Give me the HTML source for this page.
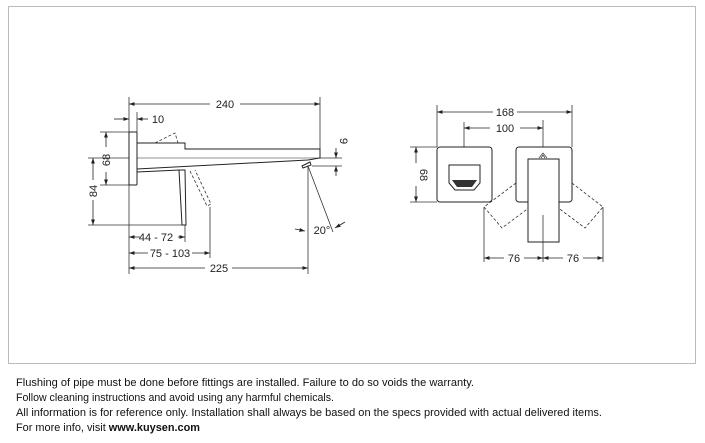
<!DOCTYPE html>
<html><head><meta charset="utf-8"><style>
html,body{margin:0;padding:0;background:#fff;width:705px;height:443px;overflow:hidden}
svg{display:block}
text{font-family:"Liberation Sans",sans-serif}
</style></head><body>
<svg width="705" height="443" viewBox="0 0 705 443" xmlns="http://www.w3.org/2000/svg">
<defs>
<marker id="a" viewBox="0 0 10 10" refX="10" refY="5" markerWidth="7" markerHeight="7" orient="auto-start-reverse"><path d="M0,1.5 L10,5 L0,8.5 z" fill="#222"/></marker>
</defs>
<rect x="8.5" y="6.5" width="687" height="357" fill="none" stroke="#bbb" stroke-width="1"/>
<g stroke="#333" stroke-width="0.8" fill="none">
<line x1="129" y1="97" x2="129" y2="274"/>
<line x1="320" y1="97" x2="320" y2="150"/>
<line x1="137" y1="112" x2="137" y2="132"/>
<line x1="100" y1="132" x2="129" y2="132"/>
<line x1="100" y1="185" x2="129" y2="185"/>
<line x1="88" y1="158" x2="137" y2="158"/>
<line x1="88" y1="225" x2="182" y2="225"/>
<line x1="185" y1="225" x2="185" y2="242"/>
<line x1="210" y1="207" x2="210" y2="258"/>
<line x1="308" y1="166" x2="308" y2="274"/>
<line x1="312" y1="158" x2="342" y2="158"/>
<line x1="312" y1="166" x2="342" y2="166"/>
<line x1="308" y1="166" x2="333" y2="232"/>
</g>
<g stroke="#222" stroke-width="0.8" fill="none">
<line x1="129" y1="104" x2="210" y2="104" marker-start="url(#a)"/>
<line x1="240" y1="104" x2="320" y2="104" marker-end="url(#a)"/>
<line x1="114" y1="119" x2="129" y2="119" marker-end="url(#a)"/>
<line x1="148" y1="119" x2="137" y2="119" marker-end="url(#a)"/>
<line x1="106" y1="132" x2="106" y2="147" marker-start="url(#a)"/>
<line x1="106" y1="172" x2="106" y2="185" marker-end="url(#a)"/>
<line x1="93" y1="158" x2="93" y2="180" marker-start="url(#a)"/>
<line x1="93" y1="200" x2="93" y2="225" marker-end="url(#a)"/>
<line x1="129" y1="237" x2="140" y2="237" marker-start="url(#a)"/>
<line x1="178" y1="237" x2="185" y2="237" marker-end="url(#a)"/>
<line x1="129" y1="253" x2="148" y2="253" marker-start="url(#a)"/>
<line x1="192" y1="253" x2="210" y2="253" marker-end="url(#a)"/>
<line x1="129" y1="268" x2="205" y2="268" marker-start="url(#a)"/>
<line x1="232" y1="268" x2="308" y2="268" marker-end="url(#a)"/>
<line x1="336" y1="148" x2="336" y2="158" marker-end="url(#a)"/>
<line x1="336" y1="176" x2="336" y2="166" marker-end="url(#a)"/>
<line x1="295" y1="229" x2="305" y2="231" marker-end="url(#a)"/>
<line x1="345" y1="222" x2="335" y2="228" marker-end="url(#a)"/>
</g>
<g stroke="#222" stroke-width="1" fill="#fff">
<rect x="129" y="132" width="8" height="53" rx="1"/>
<path d="M137,143 L185,143 L185,149 L320,149 L320,158 L308,160 L137,169 Z"/>
<line x1="137" y1="158" x2="320" y2="158" stroke-width="0.6"/>
<line x1="137" y1="172" x2="180" y2="170"/>
<path d="M179,170 L185,170 L186,225 L182,225 Z"/>
<path d="M302,166 L310,162 L311,165 L303,168 Z"/>
</g>
<g stroke="#333" stroke-width="0.8" fill="none" stroke-dasharray="3,2">
<path d="M155,143 L175,133 L178,143"/>
<path d="M190,171 L207,206 L211,204 L195,170"/>
</g>
<g font-size="11" fill="#222" text-anchor="middle">
<text x="225" y="108">240</text>
<text x="158" y="123">10</text>
<text x="156" y="241">44 - 72</text>
<text x="170" y="257">75 - 103</text>
<text x="219" y="272">225</text>
<text x="322" y="234">20°</text>
<text transform="translate(110,160) rotate(-90)">68</text>
<text transform="translate(97,191) rotate(-90)">84</text>
<text transform="translate(340,141) rotate(90)">9</text>
</g>
<!-- front view -->
<g stroke="#333" stroke-width="0.8" fill="none">
<line x1="437" y1="105" x2="437" y2="147"/>
<line x1="572" y1="105" x2="572" y2="147"/>
<line x1="464" y1="122" x2="464" y2="164"/>
<line x1="543" y1="120" x2="543" y2="262"/>
<line x1="410" y1="147" x2="437" y2="147"/>
<line x1="410" y1="202" x2="437" y2="202"/>
<line x1="484" y1="207" x2="484" y2="262"/>
<line x1="603" y1="207" x2="603" y2="262"/>
</g>
<g stroke="#222" stroke-width="0.8" fill="none">
<line x1="437" y1="112" x2="493" y2="112" marker-start="url(#a)"/>
<line x1="517" y1="112" x2="572" y2="112" marker-end="url(#a)"/>
<line x1="464" y1="128" x2="490" y2="128" marker-start="url(#a)"/>
<line x1="520" y1="128" x2="543" y2="128" marker-end="url(#a)"/>
<line x1="416" y1="147" x2="416" y2="163" marker-start="url(#a)"/>
<line x1="416" y1="186" x2="416" y2="202" marker-end="url(#a)"/>
<line x1="484" y1="258" x2="504" y2="258" marker-start="url(#a)"/>
<line x1="524" y1="258" x2="543" y2="258" marker-end="url(#a)"/>
<line x1="543" y1="258" x2="563" y2="258" marker-start="url(#a)"/>
<line x1="583" y1="258" x2="603" y2="258" marker-end="url(#a)"/>
</g>
<g stroke="#333" stroke-width="0.8" fill="none" stroke-dasharray="3,2">
<path d="M520,180 L484,207 L502,228 L530,207"/>
<path d="M568,180 L603,207 L585,228 L557,207"/>
<path d="M522,171 L518,178 L521,180"/>
<path d="M566,171 L570,178 L567,180"/>
</g>
<g stroke="#222" stroke-width="1" fill="#fff">
<rect x="437" y="147" width="55" height="55" rx="3"/>
<rect x="516" y="147" width="56" height="55" rx="3"/>
<rect x="528" y="159" width="31" height="83"/>
<path d="M449,165 L480,165 L480,183 L474,190 L455,190 L449,183 Z"/>
</g>
<path d="M452,180 L477,180 L472,187 L457,187 Z" fill="#333"/>
<path d="M539,158 L543,153 L547,158 M541,158 L543,155 L545,158" stroke="#333" stroke-width="0.7" fill="none"/>
<line x1="543" y1="215" x2="543" y2="242" stroke="#333" stroke-width="0.8"/>
<g font-size="11" fill="#222" text-anchor="middle">
<text x="505" y="116">168</text>
<text x="505" y="132">100</text>
<text x="514" y="262">76</text>
<text x="573" y="262">76</text>
<text transform="translate(420,175) rotate(90)">68</text>
</g>
<g font-size="11" fill="#111">
<text x="16" y="386" textLength="458" lengthAdjust="spacingAndGlyphs">Flushing of pipe must be done before fittings are installed. Failure to do so voids the warranty.</text>
<text x="16" y="401" textLength="318" lengthAdjust="spacingAndGlyphs">Follow cleaning instructions and avoid using any harmful chemicals.</text>
<text x="16" y="416" textLength="586" lengthAdjust="spacingAndGlyphs">All information is for reference only. Installation shall always be based on the specs provided with actual delivered items.</text>
<text x="16" y="431" textLength="184" lengthAdjust="spacingAndGlyphs">For more info, visit <tspan font-weight="bold">www.kuysen.com</tspan></text>
</g>
</svg>
</body></html>
